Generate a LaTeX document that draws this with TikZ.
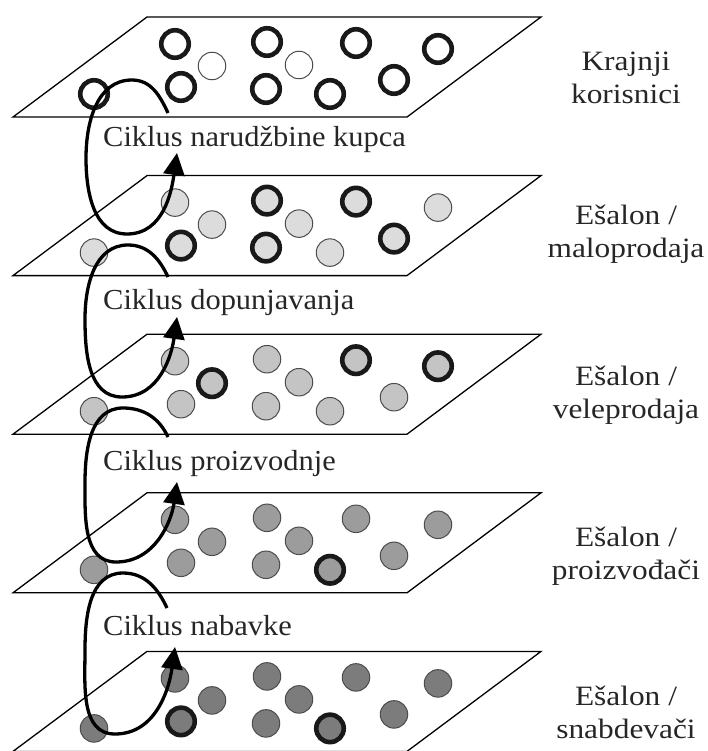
\documentclass[tikz,border=0pt]{standalone}
\usepackage{fontspec}
\setmainfont{Liberation Serif}
\newfontfamily\cycfont[FakeStretch=1.05]{Liberation Serif}
\newfontfamily\lvlfont[FakeStretch=1.12]{Liberation Serif}
\usetikzlibrary{arrows.meta}

\definecolor{shadeA}{HTML}{FFFFFF}
\definecolor{shadeB}{HTML}{DCDCDC}
\definecolor{shadeC}{HTML}{C4C4C4}
\definecolor{shadeD}{HTML}{9C9C9C}
\definecolor{shadeE}{HTML}{7C7C7C}

\begin{document}
\begin{tikzpicture}[
    x=1pt, y=1pt,
    plane/.style={
        draw=black,
        line width=1.3pt,
        fill=white
    },
    dotthin/.style={
        circle,
        draw=black!70,
        line width=1pt,
        minimum size=27.5pt,
        inner sep=0pt
    },
    dotthick/.style={
        circle,
        draw=black!90,
        line width=4.6pt,
        minimum size=27.5pt,
        inner sep=0pt
    },
    cycarrow/.style={line width=3.3pt, -{Triangle[length=22pt, width=21pt]}},
    cyclabel/.style={
        anchor=base west,
        inner sep=0pt,
        text=black!85,
        font=\cycfont\fontsize{29}{33}\selectfont
    },
    level/.style={
        anchor=base,
        inner sep=0pt,
        align=center,
        text=black!85,
        font=\lvlfont\fontsize{28}{33}\selectfont
    }
]
\useasboundingbox (0,0) rectangle (708,-751);

% --- Ravan 1: krajnji korisnici ---
\begin{scope}[yshift=-17pt]
\draw[plane] (147,0) -- (541,0) -- (407,-100) -- (13,-100) -- cycle;
\foreach \n/\x/\y/\s in {a/175/27/dotthick, b/212/49/dotthin, c/267/25/dotthick,
    d/299/48/dotthin, e/356/26/dotthick, f/438/32/dotthick, g/94/77/dotthick,
    h/181/70/dotthick, i/266/72/dotthick, j/330/77/dotthick, k/394/63/dotthick}
    \node[\s, fill=shadeA] (user\n) at (\x,-\y) {};
\end{scope}

% --- Ravan 2: maloprodaja ---
\begin{scope}[yshift=-175.6pt]
\draw[plane] (147,0) -- (541,0) -- (407,-100) -- (13,-100) -- cycle;
\foreach \n/\x/\y/\s in {a/175/27/dotthin, b/212/49/dotthin, c/267/25/dotthick,
    d/299/48/dotthin, e/356/26/dotthick, f/438/32/dotthin, g/94/77/dotthin,
    h/181/70/dotthick, i/266/72/dotthick, j/330/77/dotthin, k/394/63/dotthick}
    \node[\s, fill=shadeB] (retail\n) at (\x,-\y) {};
\end{scope}

% --- Ravan 3: veleprodaja ---
\begin{scope}[yshift=-334.2pt]
\draw[plane] (147,0) -- (541,0) -- (407,-100) -- (13,-100) -- cycle;
\foreach \n/\x/\y/\s in {a/175/27/dotthin, b/212/49/dotthick, c/267/25/dotthin,
    d/299/48/dotthin, e/356/26/dotthick, f/438/32/dotthick, g/94/77/dotthin,
    h/181/70/dotthin, i/266/72/dotthin, j/330/77/dotthin, k/394/63/dotthin}
    \node[\s, fill=shadeC] (whole\n) at (\x,-\y) {};
\end{scope}

% --- Ravan 4: proizvodjaci ---
\begin{scope}[yshift=-492.8pt]
\draw[plane] (147,0) -- (541,0) -- (407,-100) -- (13,-100) -- cycle;
\foreach \n/\x/\y/\s in {a/175/27/dotthin, b/212/49/dotthin, c/267/25/dotthin,
    d/299/48/dotthin, e/356/26/dotthin, f/438/32/dotthin, g/94/77/dotthin,
    h/181/70/dotthin, i/266/72/dotthin, j/330/77/dotthick, k/394/63/dotthin}
    \node[\s, fill=shadeD] (maker\n) at (\x,-\y) {};
\end{scope}

% --- Ravan 5: snabdevaci ---
\begin{scope}[yshift=-651.4pt]
\draw[plane] (147,0) -- (541,0) -- (407,-100) -- (13,-100) -- cycle;
\foreach \n/\x/\y/\s in {a/175/27/dotthin, b/212/49/dotthin, c/267/25/dotthin,
    d/299/48/dotthin, e/356/26/dotthin, f/438/32/dotthin, g/94/77/dotthin,
    h/181/70/dotthick, i/266/72/dotthin, j/330/77/dotthick, k/394/63/dotthin}
    \node[\s, fill=shadeE] (supp\n) at (\x,-\y) {};
\end{scope}

% --- Ciklusi (petlje) ---
\coordinate (ordS) at (168,-113);
\coordinate (ordE) at (177,-153);
\coordinate (repS) at (168,-277);
\coordinate (repE) at (177,-317);
\coordinate (prodS) at (168,-437);
\coordinate (prodE) at (177,-482);
\coordinate (procS) at (167,-608);
\coordinate (procE) at (175,-647);

\draw[cycarrow] (ordS) to[out=115,in=0] (132,-80) to[out=180,in=90] (86,-158)
    to[out=-90,in=180] (127,-234) to[out=0,in=-98] (ordE);
\draw[cycarrow] (repS) to[out=115,in=0] (128,-245) to[out=180,in=90] (85,-319)
    to[out=-90,in=180] (122,-397) to[out=0,in=-98] (repE);
\draw[cycarrow] (prodS) to[out=115,in=0] (123,-408) to[out=180,in=90] (85,-483)
    to[out=-90,in=180] (116,-562) to[out=0,in=-98] (prodE);
\draw[cycarrow] (procS) to[out=115,in=0] (123,-573) to[out=180,in=90] (85,-650)
    to[out=-90,in=180] (115,-734) to[out=0,in=-98] (procE);

% --- Natpisi ciklusa ---
\node[cyclabel] (ordtext)  at (103,-146.5) {Ciklus narudžbine kupca};
\node[cyclabel] (reptext)  at (103,-309) {Ciklus dopunjavanja};
\node[cyclabel] (prodtext) at (103,-470) {Ciklus proizvodnje};
\node[cyclabel] (proctext) at (103,-635) {Ciklus nabavke};

% --- Natpisi ešalona (base = donji red) ---
\node[level] (users)  at (626,-104)  {Krajnji\\korisnici};
\node[level] (retail) at (626,-257) {Ešalon /\\maloprodaja};
\node[level] (whole)  at (626,-418) {Ešalon /\\veleprodaja};
\node[level] (makers) at (626,-579) {Ešalon /\\proizvođači};
\node[level] (supp)   at (626,-738) {Ešalon /\\snabdevači};

\end{tikzpicture}
\end{document}
